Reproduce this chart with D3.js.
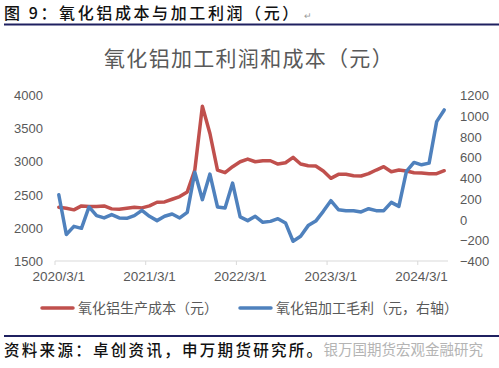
<!DOCTYPE html>
<html>
<head>
<meta charset="utf-8">
<script src="https://cdn.jsdelivr.net/npm/d3@7"></script>
<style>
  html, body { margin: 0; padding: 0; background: #fff; }
  svg { display: block; }
</style>
</head>
<body>
<div id="chart"></div>
<script>
// ---- data ----
const startYear = 2020, startMonth = 3; // first point: 2020/3
const costSeries = [2310, 2295, 2270, 2330, 2320, 2320, 2330, 2285, 2280, 2295, 2310, 2300,
  2330, 2385, 2390, 2430, 2470, 2540, 2870, 3830, 3420, 2870, 2830, 2920,
  2995, 3035, 2995, 3010, 3010, 2960, 2980, 3060, 2960, 2935, 2930, 2855,
  2745, 2805, 2805, 2785, 2780, 2815, 2870, 2920, 2845, 2870, 2855, 2830,
  2825, 2815, 2815, 2860];
const profitSeries = [239, -145, -66, -85, 121, 37, 15, 47, 15, 11, 37, 88,
  31, -11, 31, 53, 15, 69, 455, 191, 438, 121, 111, 351,
  25, -11, 31, -27, -18, 8, -33, -210, -162, -59, -15, 79,
  181, 95, 85, 85, 73, 104, 85, 85, 165, 127, 463, 550,
  527, 543, 943, 1056];
const xTickLabels = ["2020/3/1", "2021/3/1", "2022/3/1", "2023/3/1", "2024/3/1"];
const xTickIndex = [0, 12, 24, 36, 48];
const leftTicks = [1500, 2000, 2500, 3000, 3500, 4000];
const rightTicks = [-400, -200, 0, 200, 400, 600, 800, 1000, 1200];
const seriesNames = ["氧化铝生产成本（元）", "氧化铝加工毛利（元，右轴）"];
const chartTitle = "氧化铝加工利润和成本（元）";
const captionText = "图 9：氧化铝成本与加工利润（元）";
const sourceText = "资料来源：卓创资讯，申万期货研究所。";
const watermarkText = "银万国期货宏观金融研究";

// ---- layout ----
const W = 499, H = 368;
const plot = { left: 55, right: 448, top: 95, bottom: 261 };
const red = "#C0504D", blue = "#4F81BD";
const cjk = "'Noto Sans CJK SC', 'Noto Sans', sans-serif";
const num = "'Liberation Sans', Arial, sans-serif";

const svg = d3.select("#chart").append("svg").attr("width", W).attr("height", H);

// caption
svg.append("text").attr("x", 4).attr("y", 19)
  .attr("font-family", cjk).attr("font-size", 16).attr("font-weight", 500)
  .attr("letter-spacing", 2.6).attr("fill", "#111").text(captionText);
svg.append("text").attr("x", 304).attr("y", 19)
  .attr("font-family", num).attr("font-size", 9).attr("fill", "#999").text("↵");
svg.append("line").attr("x1", 4).attr("x2", 499).attr("y1", 24.5).attr("y2", 24.5)
  .attr("stroke", "#1f2060").attr("stroke-width", 2);

// chart title
svg.append("text").attr("x", 249).attr("y", 66).attr("text-anchor", "middle")
  .attr("font-family", cjk).attr("font-size", 21).attr("letter-spacing", 1.3)
  .attr("fill", "#595959").text(chartTitle);

// scales
const idx = d3.range(costSeries.length);
const x = d3.scalePoint().domain(idx).range([plot.left, plot.right]).padding(0.5);
const step = x.step();
const yL = d3.scaleLinear().domain([1500, 4000]).range([plot.bottom, plot.top]);
const yR = d3.scaleLinear().domain([-400, 1200]).range([plot.bottom, plot.top]);

// axis line
svg.append("line").attr("x1", plot.left).attr("x2", plot.right)
  .attr("y1", plot.bottom).attr("y2", plot.bottom)
  .attr("stroke", "#d9d9d9").attr("stroke-width", 1);
svg.selectAll(".xtick").data(xTickIndex).enter().append("line")
  .attr("x1", d => x(d) - step / 2).attr("x2", d => x(d) - step / 2)
  .attr("y1", plot.bottom).attr("y2", plot.bottom + 4)
  .attr("stroke", "#d9d9d9").attr("stroke-width", 1);

// x labels
svg.selectAll(".xlab").data(xTickIndex).enter().append("text")
  .attr("x", d => x(d)).attr("y", 281).attr("text-anchor", "middle")
  .attr("font-family", num).attr("font-size", 13.5).attr("fill", "#595959")
  .text((d, i) => xTickLabels[i]);

// left labels
svg.selectAll(".ylab").data(leftTicks).enter().append("text")
  .attr("x", 43).attr("y", d => yL(d) + 5).attr("text-anchor", "end")
  .attr("font-family", num).attr("font-size", 13).attr("fill", "#595959")
  .text(d => d);

// right labels
svg.selectAll(".yrlab").data(rightTicks).enter().append("text")
  .attr("x", 460).attr("y", d => yR(d) + 5).attr("text-anchor", "start")
  .attr("font-family", num).attr("font-size", 13).attr("fill", "#595959")
  .text(d => d < 0 ? "\u2212" + Math.abs(d) : d);

// lines
const lineL = d3.line().x((d, i) => x(i)).y(d => yL(d));
const lineR = d3.line().x((d, i) => x(i)).y(d => yR(d));
svg.append("path").datum(costSeries).attr("d", lineL)
  .attr("fill", "none").attr("stroke", red).attr("stroke-width", 3.5)
  .attr("stroke-linejoin", "round").attr("stroke-linecap", "round");
svg.append("path").datum(profitSeries).attr("d", lineR)
  .attr("fill", "none").attr("stroke", blue).attr("stroke-width", 3.5)
  .attr("stroke-linejoin", "round").attr("stroke-linecap", "round");

// legend
const legend = [
  { name: seriesNames[0], color: red, x: 42 },
  { name: seriesNames[1], color: blue, x: 240 }
];
legend.forEach(l => {
  svg.append("line").attr("x1", l.x).attr("x2", l.x + 31).attr("y1", 308).attr("y2", 308)
    .attr("stroke", l.color).attr("stroke-width", 3.5).attr("stroke-linecap", "round");
  svg.append("text").attr("x", l.x + 36).attr("y", 313)
    .attr("font-family", cjk).attr("font-size", 14).attr("fill", "#595959").text(l.name);
});

// bottom rule
svg.append("line").attr("x1", 4).attr("x2", 499).attr("y1", 336).attr("y2", 336)
  .attr("stroke", "#1f2060").attr("stroke-width", 2);

// watermark
svg.append("text").attr("x", 483).attr("y", 355).attr("text-anchor", "end")
  .attr("font-family", cjk).attr("font-size", 14.5).attr("fill", "#b4b4b4").text(watermarkText);

// source
svg.append("text").attr("x", 4).attr("y", 356)
  .attr("font-family", cjk).attr("font-size", 15.5).attr("font-weight", 500)
  .attr("letter-spacing", 2.3).attr("fill", "#111").text(sourceText);
</script>
</body>
</html>
